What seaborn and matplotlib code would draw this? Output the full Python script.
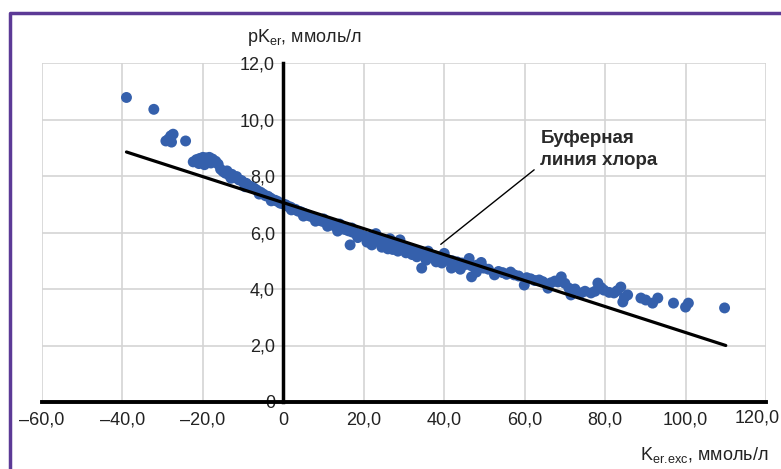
import numpy as np
import pandas as pd
import matplotlib
matplotlib.use("Agg")
import matplotlib.pyplot as plt
from matplotlib.lines import Line2D
import seaborn as sns

# ---- data ----
k_exc = [
    -39.0, -32.2, -29.2, -28.6, -28.0, -27.4, -27.8, -24.3,
    -22.4, -21.6, -20.8, -20.0, -19.2, -18.4, -17.6, -16.8, -21.0, -19.6, -18.0, -16.2,
    -15.6, -15.0, -14.4, -14.0, -13.4, -12.8, -12.2, -11.6, -11.0, -10.4, -9.8, -9.2,
    -8.6, -8.0, -7.4, -6.8, -6.2, -5.6, -5.0, -4.4, -3.8, -3.2, -2.6, -2.0, -1.4, -0.8, -0.2,
    -13.0, -9.5, -6.0, -3.0,
    0.6, 1.2, 1.8, 2.4, 3.0, 3.6, 4.2, 4.8, 5.4, 6.0, 6.6, 7.2, 7.8, 8.4, 9.0, 9.6, 10.2,
    10.8, 11.4, 12.0, 12.6, 13.2, 13.8, 14.4, 15.0, 15.6, 16.2, 16.8, 17.4, 18.0, 18.6, 19.2, 19.8,
    2.0, 5.0, 8.0, 11.0, 13.5, 16.6, 18.5, 10.0, 14.0, 17.0,
    20.4, 21.0, 21.6, 22.2, 22.8, 23.4, 24.0, 24.6, 25.2, 25.8, 26.4, 27.0, 27.6, 28.2, 28.8,
    29.4, 30.0, 30.6, 31.2, 31.8, 32.4, 33.0, 33.6, 34.2, 34.8, 35.4, 36.0, 36.6, 37.2, 37.8,
    38.4, 39.0, 39.6, 40.2, 40.8, 41.4, 42.0, 42.6, 43.2, 43.8, 44.4, 45.0, 45.6, 46.2, 46.8,
    47.4, 48.0, 48.6, 49.2, 49.8,
    22.0, 24.5, 26.0, 28.5, 30.5, 32.0, 34.4, 35.5, 38.0, 41.8, 44.0, 46.8, 48.0,
    23.0, 26.5, 29.0, 36.0, 40.0,
    20.8, 27.2, 33.2, 39.4, 43.0,
    51.0, 52.5, 53.5, 54.5, 55.5, 56.5, 57.4, 58.5, 59.9, 60.5, 61.5, 62.5, 63.6, 64.5, 65.8,
    66.5, 67.5, 68.3, 69.1, 70.0, 71.0, 71.5, 72.5, 74.0, 75.0, 76.5, 77.5, 78.2, 79.0, 79.7,
    81.0, 82.2, 83.0, 83.9, 84.4, 84.8, 85.6, 88.9, 90.1, 91.8, 93.1, 97.0, 100.0, 100.7, 109.7,
]
pk_er = [
    10.78, 10.36, 9.24, 9.30, 9.42, 9.48, 9.20, 9.24,
    8.50, 8.58, 8.62, 8.66, 8.64, 8.66, 8.60, 8.52, 8.44, 8.40, 8.46, 8.42,
    8.24, 8.16, 8.10, 8.18, 8.02, 8.06, 7.94, 7.98, 7.86, 7.84, 7.76, 7.74,
    7.66, 7.62, 7.58, 7.52, 7.46, 7.42, 7.36, 7.30, 7.28, 7.22, 7.16, 7.14, 7.10, 7.04, 7.02,
    7.92, 7.62, 7.36, 7.12,
    6.98, 6.92, 6.90, 6.84, 6.82, 6.76, 6.74, 6.70, 6.66, 6.62, 6.58, 6.56, 6.50, 6.48, 6.44, 6.40, 6.38,
    6.34, 6.30, 6.28, 6.24, 6.22, 6.18, 6.16, 6.12, 6.10, 6.06, 6.04, 6.00, 5.98, 5.94, 5.92, 5.88,
    6.80, 6.58, 6.40, 6.22, 6.05, 5.56, 5.82, 6.48, 6.30, 6.16,
    5.86, 5.80, 5.84, 5.76, 5.72, 5.78, 5.68, 5.66, 5.70, 5.60, 5.58, 5.62, 5.52, 5.56, 5.48,
    5.50, 5.44, 5.46, 5.40, 5.36, 5.38, 5.30, 5.28, 5.32, 5.22, 5.24, 5.18, 5.20, 5.12, 5.16,
    5.10, 5.06, 5.12, 5.02, 5.04, 4.98, 5.00, 4.94, 4.96, 4.90, 4.92, 4.86, 4.88, 5.08, 4.82,
    4.80, 4.84, 4.78, 4.94, 4.74,
    5.56, 5.48, 5.42, 5.34, 5.28, 5.22, 4.74, 5.02, 4.96, 4.74, 4.70, 4.43, 4.60,
    5.96, 5.78, 5.74, 5.34, 5.26,
    5.66, 5.40, 5.14, 4.92, 4.80,
    4.70, 4.50, 4.62, 4.58, 4.52, 4.60, 4.50, 4.46, 4.14, 4.40, 4.36, 4.30, 4.32, 4.26, 4.03,
    4.22, 4.28, 4.25, 4.43, 4.20, 4.03, 3.79, 4.00, 3.86, 3.92, 3.86, 3.92, 4.21, 4.05, 3.96,
    3.88, 3.86, 3.94, 4.07, 3.54, 3.70, 3.79, 3.68, 3.61, 3.50, 3.68, 3.50, 3.36, 3.50, 3.33,
]
buffer_x = [-39.0, 110.0]
buffer_y = [8.85, 2.0]

x_ticks = [-60, -40, -20, 0, 20, 40, 60, 80, 100, 120]
x_tick_labels = ["–60,0", "–40,0", "–20,0", "0", "20,0", "40,0", "60,0", "80,0", "100,0", "120,0"]
y_ticks = [0, 2, 4, 6, 8, 10, 12]
y_tick_labels = ["0", "2,0", "4,0", "6,0", "8,0", "10,0", "12,0"]

sns.set_style("white")
plt.rcParams["font.family"] = ["Liberation Sans", "DejaVu Sans"]
plt.rcParams["mathtext.fontset"] = "custom"
plt.rcParams["mathtext.rm"] = "Liberation Sans"

W, H = 781, 469
fig = plt.figure(figsize=(W / 100, H / 100), dpi=100)
ax = fig.add_axes([42 / W, 1 - 402 / H, (766 - 42) / W, (402 - 63) / H])

df = pd.DataFrame({"k": k_exc, "pk": pk_er})
sns.scatterplot(data=df, x="k", y="pk", ax=ax, s=62, color="#3560AC",
                edgecolor="none", linewidth=0, zorder=3)
ax.plot(buffer_x, buffer_y, color="black", lw=2.3, zorder=4)

ax.set_xlim(-60, 120)
ax.set_ylim(0, 12)
ax.set_xticks(x_ticks)
# last label is drawn separately, shifted left so that it stays inside the figure
ax.set_xticklabels(x_tick_labels[:-1] + [""])
ax.set_yticks(y_ticks)
ax.set_yticklabels(y_tick_labels)
ax.grid(True, color="#d4d4d4", lw=1.2, zorder=0)
ax.set_axisbelow(True)
ax.set_xlabel("")
ax.set_ylabel("")

for s in ["top", "right"]:
    ax.spines[s].set_visible(False)
ax.spines["left"].set_position(("data", 0))
ax.spines["left"].set_color("black")
ax.spines["left"].set_linewidth(2.5)
ax.spines["left"].set_zorder(5)
ax.spines["bottom"].set_color("black")
ax.spines["bottom"].set_linewidth(2.8)
ax.spines["bottom"].set_zorder(5)
ax.tick_params(axis="both", length=0, labelsize=13, colors="#222222")
ax.tick_params(axis="y", pad=6)
ax.tick_params(axis="x", pad=7)

fig.text(780 / W, 1 - 418 / H, x_tick_labels[-1], ha="right", va="center",
         fontsize=13, color="#222222")

# annotation
ax.annotate("", xy=(38.6, 5.52), xytext=(62.9, 8.28),
            arrowprops=dict(arrowstyle="-", color="black", lw=1.0), zorder=6)
ax.text(63.9, 9.62, "Буферная\nлиния хлора", ha="left", va="top",
        fontsize=13.5, fontweight="bold", color="#2a2a2a", linespacing=1.35)

# axis titles
fig.text(247 / W, 1 - 38 / H, r"pK$_{\mathregular{er}}$, ммоль/л", ha="left",
         va="center", fontsize=13, color="#222222")
fig.text(768 / W, 1 - 455 / H, r"K$_{\mathregular{er.\!exc}}$, ммоль/л", ha="right",
         va="center", fontsize=13, color="#222222")

# purple frame
fig.add_artist(Line2D([10 / W, 10 / W, 1.0], [0.0, 1 - 13 / H, 1 - 13 / H],
                      transform=fig.transFigure, color="#5c3a96", lw=2.5))

fig.savefig("out.png", dpi=100)
